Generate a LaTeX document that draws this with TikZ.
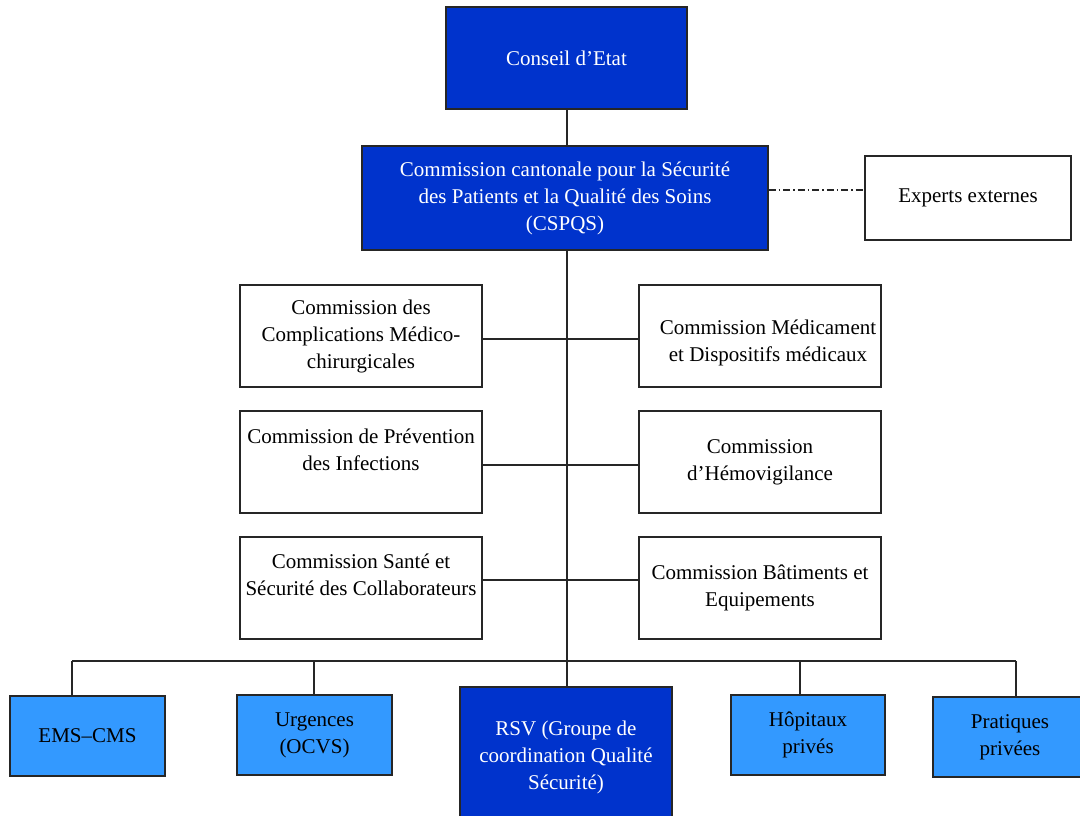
\documentclass[tikz,border=0pt]{standalone}
\usepackage{fontspec}
\setmainfont{Liberation Serif}
\definecolor{darkblue}{RGB}{0,51,204}
\definecolor{lightblue}{RGB}{51,153,255}
\begin{document}
\begin{tikzpicture}[x=1pt,y=-1pt,
  font=\fontsize{21}{27}\selectfont,
  box/.style={draw=black!85,line width=1.2pt,align=center,inner sep=0pt},
  dark/.style={box,fill=darkblue,text=white},
  light/.style={box,fill=lightblue,text=black},
  plain/.style={box,fill=white,text=black},
  conn/.style={draw=black!85,line width=1.2pt}]
\useasboundingbox (0,0) rectangle (1080,816);
% top
\node[dark,minimum width=241pt,minimum height=102pt] (ce) at (566.5,58) {Conseil d'Etat};
\node[dark,minimum width=406pt,minimum height=104pt] (cs) at (565,198) {Commission cantonale pour la Sécurité\\des Patients et la Qualité des Soins\\(CSPQS)};
\node[plain,minimum width=206pt,minimum height=84pt] (ex) at (968,198) {Experts externes};
% middle commissions
\node[plain,minimum width=242pt,minimum height=102pt] (l1) at (361,336) {Commission des\\Complications Médico-\\chirurgicales};
\node[plain,minimum width=242pt,minimum height=102pt,
  label={[align=center,xshift=8pt,yshift=-7pt]center:Commission Médicament\\et Dispositifs médicaux}] (r1) at (760,336) {};
\node[plain,minimum width=242pt,minimum height=102pt] (l2) at (361,462) {Commission de Prévention\\des Infections\\[-3pt]};
\node[plain,minimum width=242pt,minimum height=102pt] (r2) at (760,462) {Commission\\d'Hémovigilance};
\node[plain,minimum width=242pt,minimum height=102pt] (l3) at (361,588) {Commission Santé et\\Sécurité des Collaborateurs\\[-1pt]};
\node[plain,minimum width=242pt,minimum height=102pt] (r3) at (760,588) {Commission Bâtiments et\\Equipements};
% bottom
\node[light,minimum width=155pt,minimum height=80pt] (ems) at (87.5,736) {EMS--CMS};
\node[light,minimum width=155pt,minimum height=80pt] (urg) at (314.5,735) {Urgences\\(OCVS)};
\node[dark,minimum width=212pt,minimum height=140pt] (rsv) at (566,757) {RSV (Groupe de\\coordination Qualité\\Sécurité)};
\node[light,minimum width=154pt,minimum height=80pt] (hop) at (808,735) {Hôpitaux\\privés};
\node[light,minimum width=154pt,minimum height=80pt] (pra) at (1010,737) {Pratiques\\privées};
% connectors
\coordinate (trunk) at (567,0);
\coordinate (busL) at (72,661);
\coordinate (busU) at (314,661);
\coordinate (busH) at (800,661);
\coordinate (busR) at (1016,661);
\draw[conn] (trunk |- ce.south) -- (trunk |- cs.north);
\draw[conn] (trunk |- cs.south) -- (trunk |- rsv.north);
\draw[conn,dash pattern=on 7pt off 3pt on 1.5pt off 3pt] ([yshift=8pt]cs.east) -- ([yshift=8pt]cs.east -| ex.west);
\draw[conn] ([yshift=-3pt]l1.east) -- ([yshift=-3pt]r1.west);
\draw[conn] ([yshift=-3pt]l2.east) -- ([yshift=-3pt]r2.west);
\draw[conn] ([yshift=8pt]l3.east) -- ([yshift=8pt]r3.west);
\draw[conn] (busL) -- (busR);
\draw[conn] (busL) -- (busL |- ems.north);
\draw[conn] (busU) -- (busU |- urg.north);
\draw[conn] (busH) -- (busH |- hop.north);
\draw[conn] (busR) -- (busR |- pra.north);
\end{tikzpicture}
\end{document}
